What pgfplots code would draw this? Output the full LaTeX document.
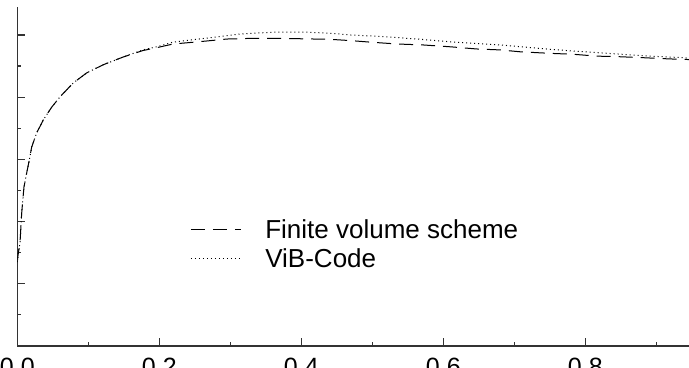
\documentclass[border=0pt]{standalone}
\usepackage{fontspec}
\setmainfont{Liberation Sans}
\usepackage{pgfplots}
\pgfplotsset{compat=1.18}
\begin{document}
\begin{tikzpicture}
\begin{axis}[
  at={(8.65pt,11pt)}, anchor=south west,
  scale only axis,
  width=335.85pt, height=169.5pt,
  xmin=0, xmax=0.946, ymin=0, ymax=10.9,
  axis x line=bottom, axis y line=left,
  axis line style={-, line width=0.75pt, black!80},
  tick align=inside,
  major tick length=4pt, minor tick length=2pt,
  tick style={black!80, line width=0.6pt},
  xtick={0,0.2,0.4,0.6,0.8},
  xticklabels={0.0,0.2,0.4,0.6,0.8},
  minor xtick={0.1,0.3,0.5,0.7,0.9},
  ytick={0,2,4,6,8,10},
  minor ytick={1,3,5,7,9},
  yticklabels={},
  xticklabel style={font=\fontsize{12.5}{15}\selectfont, yshift=-2.5pt},
  legend style={
    at={(axis description cs:0.257,0.372)}, anchor=north west,
    draw=none, fill=none, inner sep=0pt,
    font=\fontsize{13}{15}\selectfont,
    nodes={inner sep=0pt, text height=9pt, text depth=0pt},
    row sep=5.5pt, column sep=12pt,
  },
  legend cell align=left,
  legend image code/.code={\draw[#1] (0pt,-0.1pt) -- (25pt,-0.1pt);},
]
\addplot[black, line width=0.5pt, dash pattern=on 7pt off 4pt] coordinates {
(0,2.70) (0.0014,2.99) (0.0038,3.31) (0.0062,4.28) (0.0094,5.11) (0.0132,5.56)
(0.0169,5.98) (0.0203,6.40) (0.0273,6.85) (0.0366,7.27) (0.0485,7.68)
(0.0601,8.01) (0.0789,8.46) (0.0977,8.78) (0.1207,9.04) (0.1489,9.29)
(0.177,9.50) (0.198,9.60) (0.2193,9.71) (0.2545,9.78) (0.2953,9.87)
(0.3277,9.89) (0.374,9.89) (0.4404,9.86) (0.469,9.82) (0.497,9.77)
(0.535,9.71) (0.571,9.68) (0.610,9.62) (0.647,9.55) (0.680,9.52)
(0.708,9.46) (0.750,9.41) (0.783,9.38) (0.816,9.32) (0.849,9.30)
(0.881,9.27) (0.919,9.23) (0.946,9.21)
};
\addlegendentry{Finite volume scheme}
\addplot[black, line width=0.5pt, dash pattern=on 0.5pt off 1.5pt] coordinates {
(0,2.70) (0.0014,2.99) (0.0038,3.31) (0.0062,4.28) (0.0094,5.11) (0.0132,5.56)
(0.0169,5.98) (0.0203,6.40) (0.0273,6.85) (0.0366,7.27) (0.0485,7.68)
(0.0601,8.01) (0.0789,8.46) (0.0977,8.78) (0.1207,9.04) (0.1489,9.29)
(0.177,9.52) (0.198,9.63) (0.2193,9.77) (0.267,9.90) (0.3136,10.03)
(0.360,10.09) (0.408,10.09) (0.445,10.05) (0.469,10.00) (0.515,9.95)
(0.563,9.87) (0.610,9.78) (0.656,9.71) (0.680,9.68) (0.750,9.54)
(0.797,9.46) (0.845,9.39) (0.891,9.32) (0.938,9.27) (0.946,9.25)
};
\addlegendentry{ViB-Code}
\end{axis}
\pgfresetboundingbox
\path[use as bounding box] (0,0) rectangle (344.5pt,184pt);
\end{tikzpicture}
\end{document}
